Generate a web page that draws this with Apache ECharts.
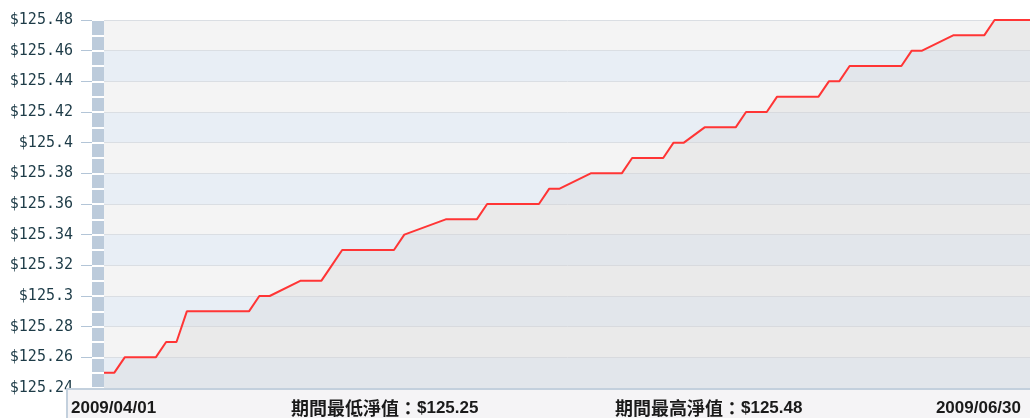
<!DOCTYPE html>
<html>
<head>
<meta charset="utf-8">
<script src="https://cdn.jsdelivr.net/npm/echarts@6/dist/echarts.min.js"></script>
<style>
    html, body { margin: 0; padding: 0; background: #fff; }
    #chart { width: 1030px; height: 418px; }
</style>
</head>
<body>
<div id="chart"></div>
<script>
// trading days shown in the chart (holidays and weekends are skipped)
const fechas = [
    '2009-04-01', '2009-04-02', '2009-04-03', '2009-04-06', '2009-04-07', '2009-04-08', '2009-04-09',
    '2009-04-14', '2009-04-15', '2009-04-16', '2009-04-17', '2009-04-20', '2009-04-21', '2009-04-22',
    '2009-04-23', '2009-04-24', '2009-04-27', '2009-04-28', '2009-04-29', '2009-04-30', '2009-05-04',
    '2009-05-05', '2009-05-06', '2009-05-07', '2009-05-08', '2009-05-11', '2009-05-12', '2009-05-13',
    '2009-05-14', '2009-05-15', '2009-05-18', '2009-05-19', '2009-05-20', '2009-05-21', '2009-05-22',
    '2009-05-25', '2009-05-26', '2009-05-27', '2009-05-29', '2009-06-01', '2009-06-02', '2009-06-03',
    '2009-06-04', '2009-06-05', '2009-06-08', '2009-06-09', '2009-06-10', '2009-06-11', '2009-06-12',
    '2009-06-15', '2009-06-16', '2009-06-17', '2009-06-18', '2009-06-19', '2009-06-22', '2009-06-23',
    '2009-06-24', '2009-06-25', '2009-06-26', '2009-06-29', '2009-06-30'
];

// net asset value per day
const valores = [
    125.25, 125.25, 125.26, 125.26, 125.27, 125.27, 125.29,
    125.29, 125.29, 125.30, 125.30, 125.31, 125.31, 125.31,
    125.32, 125.33, 125.33, 125.33, 125.33, 125.34, 125.35,
    125.35, 125.35, 125.35, 125.36, 125.36, 125.36, 125.36,
    125.37, 125.37, 125.38, 125.38, 125.38, 125.38, 125.39,
    125.39, 125.40, 125.40, 125.41, 125.41, 125.42, 125.42,
    125.42, 125.43, 125.43, 125.43, 125.44, 125.44, 125.45,
    125.45, 125.45, 125.45, 125.46, 125.46, 125.47, 125.47,
    125.47, 125.47, 125.48, 125.48, 125.48
];

// y axis range
const yMin = 125.24;
const yMax = 125.48;
const yPaso = 0.02;

const fechaInicio = '2009-04-01';
const fechaFin = '2009-06-30';

const datos = fechas.map((f, i) => [f, valores[i]]);
const minimo = Math.min(...valores);
const maximo = Math.max(...valores);

// textos del pie: parte china y parte latina con tamaños distintos
const estiloPie = {
    fill: '#1a1a1a',
    verticalAlign: 'middle',
    rich: {
        c: { fontFamily: '"Noto Sans CJK TC", sans-serif', fontWeight: 'bold', fontSize: 18, color: '#1a1a1a' },
        n: { fontFamily: '"Liberation Sans", sans-serif', fontWeight: 'bold', fontSize: 17, color: '#1a1a1a' }
    }
};

var myChart = echarts.init(document.getElementById('chart'));
var option;

option = {
    backgroundColor: '#ffffff',
    animation: false,
    grid: [
        // franja de la izquierda
        { left: 92, width: 12, top: 20, bottom: 30, show: true, backgroundColor: '#bccbdb', borderWidth: 0 },
        // area principal (el 30/06 queda un poco fuera del cuadro)
        { left: 104, width: 932, top: 20, bottom: 30, outerBoundsMode: 'none' }
    ],
    xAxis: [
        { gridIndex: 0, type: 'value', show: false, min: 0, max: 1 },
        { gridIndex: 1, type: 'time', show: false, min: fechaInicio, max: fechaFin }
    ],
    yAxis: [
        {
            gridIndex: 0,
            type: 'value',
            min: yMin,
            max: yMax,
            interval: yPaso,
            axisLine: { show: false },
            axisTick: { show: true, length: 11, lineStyle: { color: '#b3c5d7', width: 1 } },
            axisLabel: {
                margin: 19,
                color: '#1d3b47',
                fontSize: 15,
                fontFamily: '"DejaVu Sans Mono", monospace',
                formatter: function (v) {
                    return '$' + (+v.toFixed(2));
                }
            },
            splitLine: { show: true, lineStyle: { color: '#ffffff', width: 2 } },
            minorTick: { show: false, splitNumber: 2 },
            minorSplitLine: { show: true, lineStyle: { color: '#ffffff', width: 2 } }
        },
        {
            gridIndex: 1,
            type: 'value',
            min: yMin,
            max: yMax,
            interval: yPaso,
            axisLine: { show: false },
            axisTick: { show: false },
            axisLabel: { show: false },
            splitLine: { show: true, lineStyle: { color: '#dadee3', width: 1 } },
            splitArea: { show: true, areaStyle: { color: ['#e8eef5', '#f4f4f4'] } }
        }
    ],
    series: [
        {
            type: 'line',
            xAxisIndex: 1,
            yAxisIndex: 1,
            data: datos,
            symbol: 'none',
            lineStyle: { color: '#ff3535', width: 2 },
            areaStyle: { color: 'rgba(211,211,211,0.42)', origin: 'start' }
        }
    ],
    graphic: [
        {
            type: 'rect',
            z: 100,
            shape: { x: 67, y: 389, width: 1000, height: 60 },
            style: { fill: '#f5f4f6', stroke: '#c3d0dd', lineWidth: 2 }
        },
        {
            type: 'text',
            z: 101,
            x: 71,
            y: 408,
            style: Object.assign({ text: '{n|' + fechaInicio.replace(/-/g, '/') + '}' }, estiloPie)
        },
        {
            type: 'text',
            z: 101,
            x: 291,
            y: 408,
            style: Object.assign({ text: '{c|期間最低淨值：}{n|$' + minimo.toFixed(2) + '}' }, estiloPie)
        },
        {
            type: 'text',
            z: 101,
            x: 615,
            y: 408,
            style: Object.assign({ text: '{c|期間最高淨值：}{n|$' + maximo.toFixed(2) + '}' }, estiloPie)
        },
        {
            type: 'text',
            z: 101,
            x: 1021,
            y: 408,
            style: Object.assign({ text: '{n|' + fechaFin.replace(/-/g, '/') + '}', align: 'right' }, estiloPie)
        }
    ]
};

option && myChart.setOption(option);
</script>
</body>
</html>
